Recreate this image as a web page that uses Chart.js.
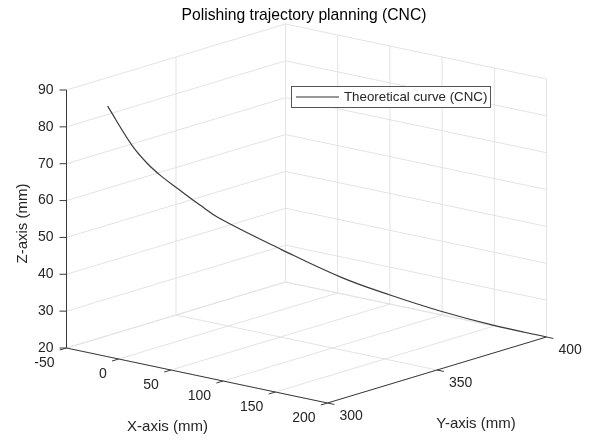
<!DOCTYPE html>
<html>
<head>
<meta charset="utf-8">
<script src="https://cdn.jsdelivr.net/npm/chart.js@4/dist/chart.umd.min.js"></script>
<style>
  html,body{margin:0;padding:0;background:#fff;}
  #wrap{width:597px;height:441px;}
</style>
</head>
<body>
<div id="wrap"><canvas id="traj" width="597" height="441"></canvas></div>
<script>
// axis ticks (mm)
const xTicks = [-50, 0, 50, 100, 150, 200];
const yTicks = [300, 350, 400];
const zTicks = [20, 30, 40, 50, 60, 70, 80, 90];

// theoretical CNC curve
const curveX = [-49.0, -35.4, -26.7, -18.2, -8.0, 3.4, 14.2, 49.9, 84.0, 111.2, 139.6, 169.6, 200];
const curveY = [318.3, 322.8, 325.6, 328.4, 331.8, 335.5, 339.0, 350.8, 361.9, 370.9, 380.2, 390.0, 400];
const curveZ = [82.4, 71.9, 67.0, 63.3, 59.6, 55.6, 52.1, 43.5, 36.0, 31.3, 27.0, 23.2, 20];

const titleText = 'Polishing trajectory planning (CNC)';
const legendText = 'Theoretical curve (CNC)';

// view: where the box corner (xmin,ymin,zmin) sits and how each axis runs on screen
const view = { u0: 66.5, v0: 348, ex: [261, 55], ey: [219, -66], ez: [0, -258] };
const xr = [xTicks[0], xTicks[xTicks.length-1]];
const yr = [yTicks[0], yTicks[yTicks.length-1]];
const zr = [zTicks[0], zTicks[zTicks.length-1]];

function proj(x, y, z){
  const a = (x-xr[0])/(xr[1]-xr[0]);
  const b = (y-yr[0])/(yr[1]-yr[0]);
  const c = (z-zr[0])/(zr[1]-zr[0]);
  return {
    x: view.u0 + a*view.ex[0] + b*view.ey[0] + c*view.ez[0],
    y: view.v0 + a*view.ex[1] + b*view.ey[1] + c*view.ez[1]
  };
}

const curvePts = curveX.map((x,i)=>proj(x, curveY[i], curveZ[i]));

const FONT = '"Liberation Sans", Arial, Helvetica, sans-serif';
const gridCol = '#e3e3e3';
const axisCol = '#3a3a3a';
const textCol = '#262626';

function seg(ctx, sx, sy, p, q){
  ctx.moveTo(sx.getPixelForValue(p.x), sy.getPixelForValue(p.y));
  ctx.lineTo(sx.getPixelForValue(q.x), sy.getPixelForValue(q.y));
}

const box3d = {
  id: 'box3d',
  beforeDatasetsDraw(chart){
    const ctx = chart.ctx, sx = chart.scales.x, sy = chart.scales.y;
    ctx.save();
    ctx.strokeStyle = gridCol;
    ctx.lineWidth = 1;
    ctx.beginPath();
    // left wall x = xmin
    zTicks.forEach(z=>seg(ctx, sx, sy, proj(xr[0], yr[0], z), proj(xr[0], yr[1], z)));
    yTicks.forEach(y=>seg(ctx, sx, sy, proj(xr[0], y, zr[0]), proj(xr[0], y, zr[1])));
    // back wall y = ymax
    zTicks.forEach(z=>seg(ctx, sx, sy, proj(xr[0], yr[1], z), proj(xr[1], yr[1], z)));
    xTicks.forEach(x=>seg(ctx, sx, sy, proj(x, yr[1], zr[0]), proj(x, yr[1], zr[1])));
    // floor z = zmin
    xTicks.forEach(x=>seg(ctx, sx, sy, proj(x, yr[0], zr[0]), proj(x, yr[1], zr[0])));
    yTicks.forEach(y=>seg(ctx, sx, sy, proj(xr[0], y, zr[0]), proj(xr[1], y, zr[0])));
    ctx.stroke();

    // axis lines
    ctx.strokeStyle = axisCol;
    ctx.lineWidth = 1;
    ctx.beginPath();
    seg(ctx, sx, sy, proj(xr[0], yr[0], zr[0]), proj(xr[0], yr[0], zr[1]));
    seg(ctx, sx, sy, proj(xr[0], yr[0], zr[0]), proj(xr[1], yr[0], zr[0]));
    seg(ctx, sx, sy, proj(xr[1], yr[0], zr[0]), proj(xr[1], yr[1], zr[0]));
    ctx.stroke();

    // tick marks (pointing outward)
    const eyLen = Math.hypot(view.ey[0], view.ey[1]);
    const exLen = Math.hypot(view.ex[0], view.ex[1]);
    const tl = 7;
    ctx.beginPath();
    zTicks.forEach(z=>{
      const p = proj(xr[0], yr[0], z);
      const u = sx.getPixelForValue(p.x), v = sy.getPixelForValue(p.y);
      ctx.moveTo(u, v); ctx.lineTo(u-tl, v);
    });
    xTicks.forEach(x=>{
      const p = proj(x, yr[0], zr[0]);
      const u = sx.getPixelForValue(p.x), v = sy.getPixelForValue(p.y);
      ctx.moveTo(u, v); ctx.lineTo(u - tl*view.ey[0]/eyLen, v - tl*view.ey[1]/eyLen);
    });
    yTicks.forEach(y=>{
      const p = proj(xr[1], y, zr[0]);
      const u = sx.getPixelForValue(p.x), v = sy.getPixelForValue(p.y);
      ctx.moveTo(u, v); ctx.lineTo(u + tl*view.ex[0]/exLen, v + tl*view.ex[1]/exLen);
    });
    ctx.stroke();

    // tick labels
    ctx.fillStyle = textCol;
    ctx.font = '14px ' + FONT;
    ctx.textBaseline = 'middle';
    ctx.textAlign = 'right';
    zTicks.forEach(z=>{
      const p = proj(xr[0], yr[0], z);
      ctx.fillText(String(z), sx.getPixelForValue(p.x)-13, sy.getPixelForValue(p.y));
    });
    xTicks.forEach(x=>{
      const p = proj(x, yr[0], zr[0]);
      ctx.fillText(String(x), sx.getPixelForValue(p.x)-12, sy.getPixelForValue(p.y)+15);
    });
    ctx.textAlign = 'left';
    yTicks.forEach(y=>{
      const p = proj(xr[1], y, zr[0]);
      ctx.fillText(String(y), sx.getPixelForValue(p.x)+12, sy.getPixelForValue(p.y)+13);
    });

    // axis titles
    ctx.font = '15px ' + FONT;
    ctx.textAlign = 'center';
    ctx.fillText('X-axis (mm)', 167.5, 427);
    ctx.fillText('Y-axis (mm)', 476, 424);
    ctx.save();
    ctx.translate(23, 223.5);
    ctx.rotate(-Math.PI/2);
    ctx.fillText('Z-axis (mm)', 0, 0);
    ctx.restore();

    // title
    ctx.font = '15.7px ' + FONT;
    ctx.fillStyle = '#000';
    ctx.fillText(titleText, 304, 15.5);
    ctx.restore();
  },
  afterDatasetsDraw(chart){
    const ctx = chart.ctx;
    ctx.save();
    ctx.fillStyle = '#fff';
    ctx.fillRect(291.5, 86.5, 199, 21);
    ctx.strokeStyle = '#555';
    ctx.lineWidth = 1;
    ctx.strokeRect(291.5, 86.5, 199, 21);
    ctx.strokeStyle = '#333';
    ctx.beginPath();
    ctx.moveTo(296, 97); ctx.lineTo(339, 97);
    ctx.stroke();
    ctx.fillStyle = textCol;
    ctx.font = '13.3px ' + FONT;
    ctx.textAlign = 'left';
    ctx.textBaseline = 'middle';
    ctx.fillText(legendText, 344, 97.5);
    ctx.restore();
  }
};

new Chart(document.getElementById('traj'), {
  type: 'scatter',
  data: {
    datasets: [{
      label: legendText,
      data: curvePts,
      showLine: true,
      borderColor: '#3a3a3a',
      borderWidth: 1.2,
      pointRadius: 0,
      tension: 0.4
    }]
  },
  options: {
    responsive: false,
    animation: false,
    devicePixelRatio: 1,
    layout: { padding: 0 },
    plugins: { legend: { display: false }, tooltip: { enabled: false }, title: { display: false } },
    scales: {
      x: { type: 'linear', min: 0, max: 597, display: false },
      y: { type: 'linear', min: 0, max: 441, reverse: true, display: false }
    }
  },
  plugins: [box3d]
});
</script>
</body>
</html>
